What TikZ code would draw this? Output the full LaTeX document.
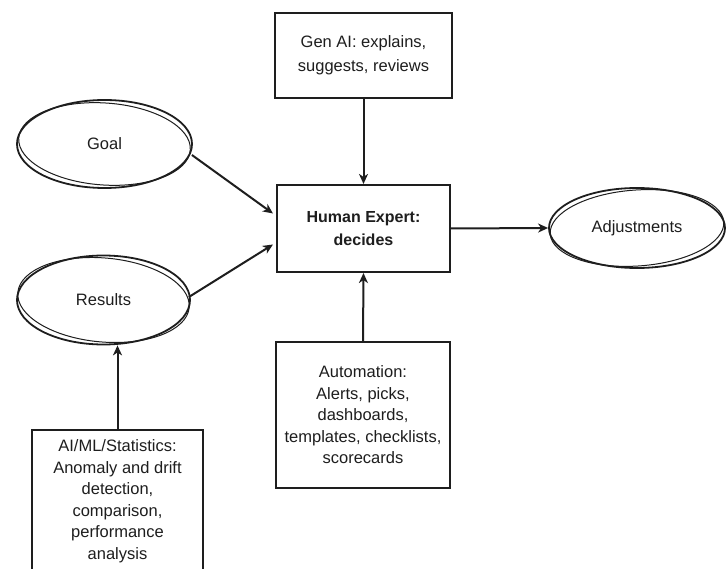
\documentclass[tikz,border=0pt]{standalone}
\usepackage{fontspec}
\setmainfont{Liberation Sans}
\usetikzlibrary{shapes.geometric,arrows.meta,calc}
\definecolor{ink}{HTML}{1E1E1E}
\begin{document}
\begin{tikzpicture}[x=1pt,y=-1pt,
  box/.style={draw=ink, line width=2.1pt, rectangle, inner sep=0pt, align=center, text=ink, font=\fontsize{16.5}{22}\selectfont},
  oval/.style={draw=ink, line width=1.8pt, ellipse, inner sep=0pt, align=center, text=ink, font=\fontsize{16.5}{22}\selectfont},
  arr/.style={draw=ink, line width=2pt, -{Stealth[length=10pt,width=9pt,inset=3pt]}},
  ghost/.style={draw=ink, line width=1pt}
]
\useasboundingbox (0,0) rectangle (728,569);
\fill[white] (0,0) rectangle (728,569);

% rectangles
\node[box, minimum width=177pt, minimum height=85pt, font=\fontsize{16.5}{24}\selectfont] (gen) at (363.5,55.5) {Gen AI: explains,\\suggests, reviews};
\node[box, minimum width=173pt, minimum height=87pt, font=\bfseries\fontsize{16}{23}\selectfont] (human) at (363.5,228.5) {Human Expert:\\decides};
\node[box, minimum width=174pt, minimum height=146pt, font=\fontsize{16.5}{21.5}\selectfont] (auto) at (363,415) {Automation:\\Alerts, picks,\\dashboards,\\templates, checklists,\\scorecards};
\node[box, minimum width=171pt, minimum height=142pt, font=\fontsize{16.5}{21.5}\selectfont] (aiml) at (117.5,501) {AI/ML/Statistics:\\Anomaly and drift\\detection,\\comparison,\\performance\\analysis};

% ellipses
\node[oval, minimum width=175pt, minimum height=88pt] (goal) at (104.5,144) {Goal};
\node[oval, minimum width=173pt, minimum height=89pt] (res) at (103.5,300) {Results};
\node[oval, minimum width=176pt, minimum height=80pt] (adj) at (637,228) {Adjustments};

% sketchy second strokes
\draw[ghost, rotate around={-4:(goal.center)}] (goal.center) ellipse [x radius=86pt, y radius=41pt];
\draw[ghost, rotate around={-5:(res.center)}] (res.center) ellipse [x radius=86pt, y radius=42pt];
\draw[ghost, rotate around={4:(adj.center)}] (adj.center) ellipse [x radius=87pt, y radius=38pt];

% connectors
\draw[arr] (gen.south) -- (human.north);
\draw[arr] (auto.north) -- (human.south);
\draw[arr] (aiml.north) -- (aiml.north |- res.south);
\draw[arr] (human.east) -- (adj.west);
\draw[arr] ([xshift=-1pt,yshift=-11pt]goal.east) -- ([xshift=-3pt,yshift=15pt]human.west);
\draw[arr] ([xshift=-2pt,yshift=3pt]res.east) -- ([xshift=-3pt,yshift=-16pt]human.west);
\end{tikzpicture}
\end{document}
